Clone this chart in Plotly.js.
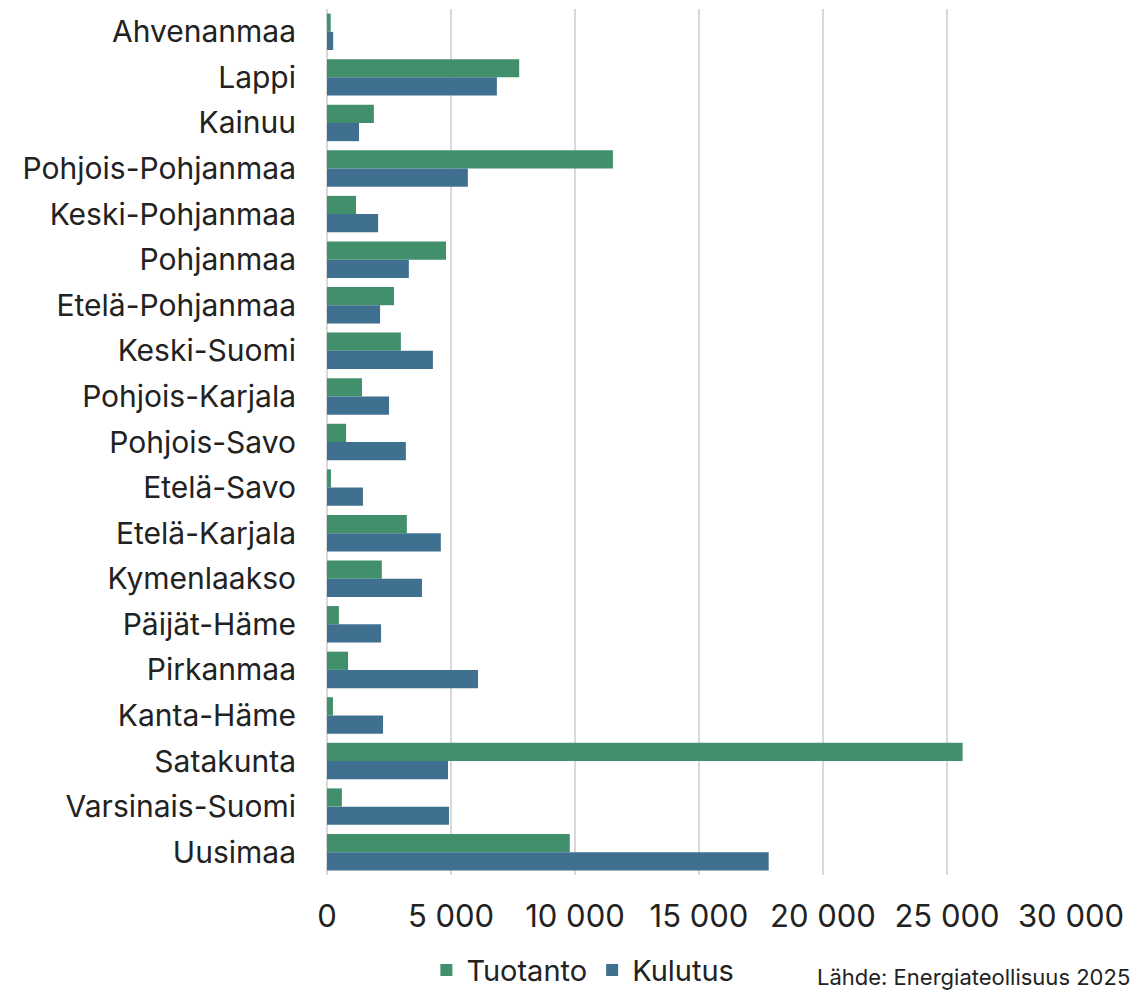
<!DOCTYPE html>
<html>
<head>
<meta charset="utf-8">
<script src="https://cdn.plot.ly/plotly-3.0.1.min.js"></script>
<style>html,body{margin:0;padding:0;background:#fff;}#chart{width:1134px;height:991px;}</style>
</head>
<body>
<div id="chart"></div>
<script>
const regions = ["Ahvenanmaa","Lappi","Kainuu","Pohjois-Pohjanmaa","Keski-Pohjanmaa","Pohjanmaa","Etelä-Pohjanmaa","Keski-Suomi","Pohjois-Karjala","Pohjois-Savo","Etelä-Savo","Etelä-Karjala","Kymenlaakso","Päijät-Häme","Pirkanmaa","Kanta-Häme","Satakunta","Varsinais-Suomi","Uusimaa"];
const tuotanto = [150,7750,1890,11530,1170,4800,2700,2980,1410,770,160,3220,2210,480,850,240,25630,600,9790];
const kulutus = [250,6850,1290,5680,2060,3300,2140,4270,2500,3180,1450,4590,3830,2180,6090,2260,4880,4920,17810];
const tickVals = [0,5000,10000,15000,20000,25000,30000];
const sourceText = "Lähde: Energiateollisuus 2025";

const font = "Inter, Lato, 'DejaVu Sans', sans-serif";
const data = [
  {type:"bar", orientation:"h", name:"Tuotanto", y:regions, x:tuotanto, marker:{color:"#428f6c"}},
  {type:"bar", orientation:"h", name:"Kulutus", y:regions, x:kulutus, marker:{color:"#40708f"}}
];
const layout = {
  width:1134, height:991,
  margin:{l:327, r:63, t:9, b:116, autoexpand:false},
  paper_bgcolor:"#fff", plot_bgcolor:"#fff",
  barmode:"group", bargap:0.2, bargroupgap:0,
  font:{family:font, color:"#222", size:30},
  xaxis:{range:[0,30000], tickvals:tickVals, tickformat:",d", separatethousands:true,
    showgrid:true, gridcolor:"#d9d9d9", gridwidth:1.5, zeroline:true, zerolinecolor:"#d9d9d9", zerolinewidth:1.5,
    showline:false, ticks:"", ticklabelstandoff:20, tickfont:{size:31, color:"#222"}, fixedrange:true, automargin:false},
  yaxis:{autorange:"reversed", type:"category", showgrid:false, showline:false, ticks:"", ticklabelstandoff:30,
    tickfont:{size:30, color:"#222"}, automargin:false},
  separators:", ",
  showlegend:true,
  legend:{orientation:"h", xref:"container", yref:"container", x:0.514, xanchor:"center", y:0.021, yanchor:"middle",
    font:{size:29}, traceorder:"normal", itemwidth:30},
  annotations:[{text:sourceText, xref:"paper", yref:"paper", x:1.082, y:-0.118, xanchor:"right", yanchor:"middle", showarrow:false, font:{size:22, color:"#222"}}]
};
Plotly.newPlot("chart", data, layout, {displayModeBar:false, staticPlot:true});
</script>
</body>
</html>
